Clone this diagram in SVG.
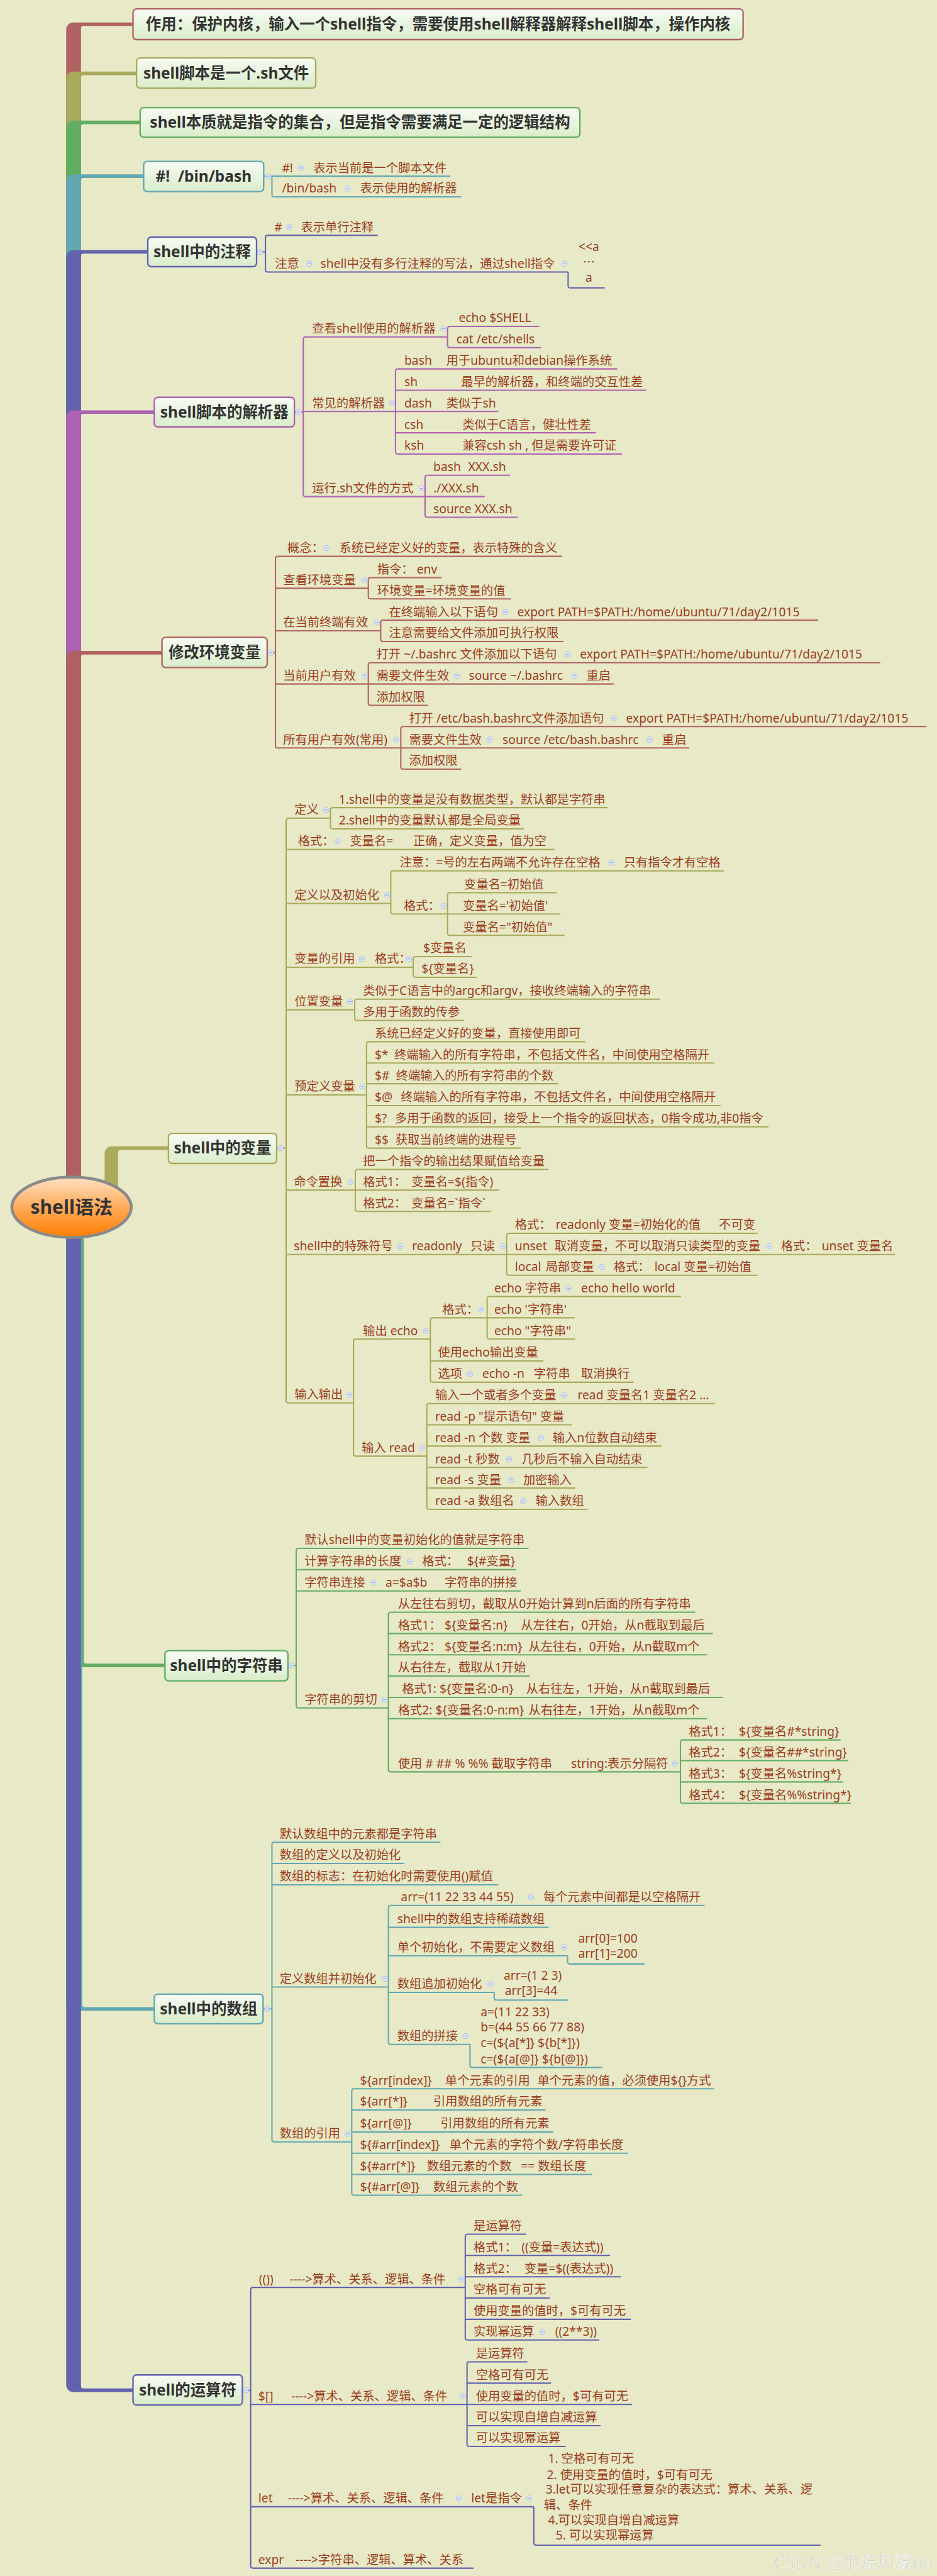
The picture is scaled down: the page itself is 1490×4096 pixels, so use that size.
<svg xmlns="http://www.w3.org/2000/svg" width="1490" height="4096" viewBox="0 0 1490 4096">
<defs>
<style>
.t{font-family:"Noto Sans","Noto Sans CJK SC",sans-serif;font-size:20.5px;fill:#9b3d1e}
.m{font-family:"Noto Sans","Noto Sans CJK SC",sans-serif;font-size:26px;font-weight:bold;fill:#333;text-anchor:middle}
.c{text-anchor:middle}
.u{fill:none;stroke-width:2.2}
.R{stroke:#b06262}.O{stroke:#a9aa5c}.G{stroke:#63ad63}.T{stroke:#62a8b0}.I{stroke:#6262ae}.M{stroke:#ae62b2}
.b{fill:url(#bx);stroke-width:2.5}
</style>
<linearGradient id="bx" x1="0" y1="0" x2="0" y2="1"><stop offset="0" stop-color="#f8fbf4"/><stop offset="1" stop-color="#d8edc9"/></linearGradient>
<linearGradient id="rg" x1="0" y1="0" x2="0" y2="1"><stop offset="0" stop-color="#ffe2c4"/><stop offset="0.5" stop-color="#ffab5a"/><stop offset="1" stop-color="#ff7f00"/></linearGradient>
<g id="k"><circle r="4.5" fill="#dfe8f8" stroke="#a3b9df" stroke-width="1"/><path d="M-2.2 0H2.2" stroke="#7290c4" stroke-width="1"/></g>
</defs>
<rect width="1490" height="4096" fill="#e8e9c6"/>
<g transform="scale(0.94006)">
<g id="connectors">
<path fill="#b06262" d="M112 2042V50A12 12 0 0 1 124 38H225V44H141A4 4 0 0 0 137 48V2042Z"/>
<path fill="#a9aa5c" d="M112 2042V133A12 12 0 0 1 124 121H231V127H141A4 4 0 0 0 137 131V2042Z"/>
<path fill="#63ad63" d="M112 2042V216A12 12 0 0 1 124 204H237V210H141A4 4 0 0 0 137 214V2042Z"/>
<path fill="#62a8b0" d="M112 2042V307A12 12 0 0 1 124 295H243V301H141A4 4 0 0 0 137 305V2042Z"/>
<path fill="#6262ae" d="M112 2042V435A12 12 0 0 1 124 423H250V429H141A4 4 0 0 0 137 433V2042Z"/>
<path fill="#ae62b2" d="M112 2042V706A12 12 0 0 1 124 694H261V700H141A4 4 0 0 0 137 704V2042Z"/>
<path fill="#b06262" d="M112 2042V1113A12 12 0 0 1 124 1101H274V1107H141A4 4 0 0 0 137 1111V2042Z"/>
<path fill="#a9aa5c" d="M177 2012V1951A12 12 0 0 1 189 1939H285V1945H204A4 4 0 0 0 200 1949V2012Z"/>
<path fill="#63ad63" d="M112 2042V2808A12 12 0 0 0 124 2820H279V2814H146A4 4 0 0 1 142 2810V2042Z"/>
<path fill="#62a8b0" d="M112 2042V3389A12 12 0 0 0 124 3401H261V3395H143A4 4 0 0 1 139 3391V2042Z"/>
<path fill="#6262ae" d="M112 2042V4034A12 12 0 0 0 124 4046H225V4040H141A4 4 0 0 1 137 4036V2042Z"/>
<path class="u T" d="M446 298H460M460 298V329Q460 333 464 333"/>
<path class="u I" d="M434 426H449M453 398Q449 398 449 402V456Q449 460 453 460M961 460V483Q961 487 965 487"/>
<path class="u M" d="M498 697H513M517 570Q513 570 513 574V836Q513 840 517 840M761 552Q757 552 757 556V584Q757 588 761 588M673 624Q669 624 669 628V764Q669 768 673 768M723 804Q719 804 719 808V871Q719 875 723 875"/>
<path class="u R" d="M452 1104H466M470 941Q466 941 466 945V1261Q466 1265 470 1265M627 977Q623 977 623 981V1009Q623 1013 627 1013M648 1049Q644 1049 644 1053V1081Q644 1085 648 1085M627 1121Q623 1121 623 1125V1189Q623 1193 627 1193M682 1229Q678 1229 678 1233V1297Q678 1301 682 1301"/>
<path class="u O" d="M468 1942H484M488 1384Q484 1384 484 1388V2369Q484 2373 488 2373M563 1366Q559 1366 559 1370V1398Q559 1402 563 1402M665 1473Q661 1473 661 1477V1542Q661 1546 665 1546M761 1510Q757 1510 757 1514V1578Q757 1582 761 1582M703 1618Q699 1618 699 1622V1649Q699 1653 703 1653M604 1690Q600 1690 600 1694V1722Q600 1726 604 1726M624 1762Q620 1762 620 1766V1938Q620 1942 624 1942M605 1978Q601 1978 601 1982V2045Q601 2049 605 2049M861 2086Q857 2086 857 2090V2153Q857 2157 861 2157M602 2265Q598 2265 598 2269V2459Q598 2463 602 2463M732 2229Q728 2229 728 2233V2334Q728 2338 732 2338M828 2193Q824 2193 824 2197V2261Q824 2265 828 2265M726 2374Q722 2374 722 2378V2549Q722 2553 726 2553"/>
<path class="u G" d="M487 2817H501M505 2619Q501 2619 501 2623V2885Q501 2889 505 2889M661 2727Q657 2727 657 2731V2993Q657 2997 661 2997M1155 2943Q1151 2943 1151 2947V3046Q1151 3050 1155 3050"/>
<path class="u T" d="M445 3398H460M464 3116Q460 3116 460 3120V3619Q460 3623 464 3623M661 3223Q657 3223 657 3227V3454Q657 3458 661 3458M960 3308V3318Q960 3322 964 3322M836 3370V3379Q836 3383 840 3383M795 3458V3493Q795 3497 799 3497M599 3533Q595 3533 595 3537V3709Q595 3713 599 3713"/>
<path class="u I" d="M410 4043H424M428 3869Q424 3869 424 3873V4340Q424 4344 428 4344M791 3779Q787 3779 787 3783V3954Q787 3958 791 3958M794 3995Q790 3995 790 3999V4134Q790 4138 794 4138M903 4240V4301Q903 4305 907 4305"/>
</g>
<g id="root"><ellipse cx="121" cy="2042" rx="101" ry="51" fill="url(#rg)" stroke="#8a8a8a" stroke-width="5"/><text class="m" x="121" y="2053" style="font-size:32px">shell语法</text></g>
<g id="n1"><rect class="b R" x="225" y="15" width="1032" height="52" rx="6"/><text class="m" x="741" y="50">作用：保护内核，输入一个shell指令，需要使用shell解释器解释shell脚本，操作内核</text></g>
<g id="n2"><rect class="b O" x="231" y="98" width="303" height="51" rx="6"/><text class="m" x="382.5" y="133">shell脚本是一个.sh文件</text></g>
<g id="n3"><rect class="b G" x="237" y="182" width="744" height="50" rx="6"/><text class="m" x="609" y="216">shell本质就是指令的集合，但是指令需要满足一定的逻辑结构</text></g>
<g id="n4"><rect class="b T" x="243" y="273" width="203" height="51" rx="6"/><text class="m" x="344.5" y="307" style="white-space:pre">#!  /bin/bash</text><use href="#k" x="454" y="298"/></g>
<g id="n4a"><path class="u T" d="M460 298H762"/><text class="t" x="477" y="291">#!</text><use href="#k" x="509" y="284"/><text class="t" x="530" y="291">表示当前是一个脚本文件</text></g>
<g id="n4b"><path class="u T" d="M464 333H780"/><text class="t" x="477" y="326">/bin/bash</text><use href="#k" x="588" y="319"/><text class="t" x="609" y="326">表示使用的解析器</text></g>
<g id="n5"><rect class="b I" x="250" y="401" width="184" height="50" rx="6"/><text class="m" x="342" y="435">shell中的注释</text><use href="#k" x="440" y="426"/></g>
<g id="n5a"><path class="u I" d="M453 398H639"/><text class="t" x="464" y="391">#</text><use href="#k" x="489" y="384"/><text class="t" x="509" y="391">表示单行注释</text></g>
<g id="n5b"><path class="u I" d="M453 460H961"/><text class="t" x="465" y="453">注意</text><use href="#k" x="523" y="446"/><text class="t" x="542" y="453">shell中没有多行注释的写法，通过shell指令</text><use href="#k" x="955" y="446"/></g>
<g id="n5c"><path class="u I" d="M965 487H1023"/><text class="t c" x="996" y="424">&lt;&lt;a</text><text class="t c" x="996" y="451" style="font-family:'Noto Sans CJK SC',sans-serif">…</text><text class="t c" x="996" y="477">a</text></g>
<g id="n6"><rect class="b M" x="261" y="672" width="237" height="50" rx="6"/><text class="m" x="379.5" y="706">shell脚本的解析器</text><use href="#k" x="505" y="697"/></g>
<g id="n6a"><path class="u M" d="M517 570H757"/><text class="t" x="528" y="563">查看shell使用的解析器</text><use href="#k" x="750" y="556"/></g>
<g id="n6a1"><path class="u M" d="M761 552H912"/><text class="t" x="776" y="545">echo $SHELL</text></g>
<g id="n6a2"><path class="u M" d="M761 588H915"/><text class="t" x="772" y="581">cat /etc/shells</text></g>
<g id="n6b"><path class="u M" d="M513 696H669"/><text class="t" x="528" y="689">常见的解析器</text><use href="#k" x="663" y="682"/></g>
<g id="n6b1"><path class="u M" d="M673 624H1044"/><text class="t" x="684" y="617">bash</text><text class="t" x="755" y="617">用于ubuntu和debian操作系统</text></g>
<g id="n6b2"><path class="u M" d="M669 660H1093"/><text class="t" x="684" y="653">sh</text><text class="t" x="780" y="653">最早的解析器，和终端的交互性差</text></g>
<g id="n6b3"><path class="u M" d="M669 696H843"/><text class="t" x="684" y="689">dash</text><text class="t" x="755" y="689">类似于sh</text></g>
<g id="n6b4"><path class="u M" d="M669 732H1008"/><text class="t" x="684" y="725">csh</text><text class="t" x="782" y="725">类似于C语言，健壮性差</text></g>
<g id="n6b5"><path class="u M" d="M673 768H1052"/><text class="t" x="684" y="761">ksh</text><text class="t" x="782" y="761">兼容csh sh , 但是需要许可证</text></g>
<g id="n6c"><path class="u M" d="M517 840H719"/><text class="t" x="528" y="833">运行.sh文件的方式</text><use href="#k" x="713" y="826"/></g>
<g id="n6c1"><path class="u M" d="M723 804H863"/><text class="t" x="733" y="797">bash</text><text class="t" x="792" y="797">XXX.sh</text></g>
<g id="n6c2"><path class="u M" d="M719 840H820"/><text class="t" x="733" y="833">./XXX.sh</text></g>
<g id="n6c3"><path class="u M" d="M723 875H876"/><text class="t" x="733" y="868">source XXX.sh</text></g>
<g id="n7"><rect class="b R" x="274" y="1078" width="178" height="51" rx="6"/><text class="m" x="363" y="1113">修改环境变量</text><use href="#k" x="458" y="1104"/></g>
<g id="n7a"><path class="u R" d="M470 941H951"/><text class="t" x="486" y="934">概念：</text><use href="#k" x="553" y="927"/><text class="t" x="574" y="934">系统已经定义好的变量，表示特殊的含义</text></g>
<g id="n7b"><path class="u R" d="M466 995H623"/><text class="t" x="479" y="988">查看环境变量</text><use href="#k" x="617" y="981"/></g>
<g id="n7b1"><path class="u R" d="M627 977H747"/><text class="t" x="638" y="970">指令：</text><text class="t" x="705" y="970">env</text></g>
<g id="n7b2"><path class="u R" d="M627 1013H864"/><text class="t" x="638" y="1006">环境变量=环境变量的值</text></g>
<g id="n7c"><path class="u R" d="M466 1067H644"/><text class="t" x="479" y="1060">在当前终端有效</text><use href="#k" x="638" y="1053"/></g>
<g id="n7c1"><path class="u R" d="M648 1049H1384"/><text class="t" x="658" y="1042">在终端输入以下语句</text><use href="#k" x="855" y="1035"/><text class="t" x="875" y="1042">export PATH=$PATH:/home/ubuntu/71/day2/1015</text></g>
<g id="n7c2"><path class="u R" d="M648 1085H953"/><text class="t" x="658" y="1078">注意需要给文件添加可执行权限</text></g>
<g id="n7d"><path class="u R" d="M466 1157H623"/><text class="t" x="479" y="1150">当前用户有效</text><use href="#k" x="617" y="1143"/></g>
<g id="n7d1"><path class="u R" d="M627 1121H1489"/><text class="t" x="637" y="1114">打开 ~/.bashrc 文件添加以下语句</text><use href="#k" x="960" y="1107"/><text class="t" x="981" y="1114">export PATH=$PATH:/home/ubuntu/71/day2/1015</text></g>
<g id="n7d2"><path class="u R" d="M623 1157H1038"/><text class="t" x="637" y="1150">需要文件生效</text><use href="#k" x="773" y="1143"/><text class="t" x="793" y="1150">source ~/.bashrc</text><use href="#k" x="972" y="1143"/><text class="t" x="992" y="1150">重启</text></g>
<g id="n7d3"><path class="u R" d="M627 1193H724"/><text class="t" x="637" y="1186">添加权限</text></g>
<g id="n7e"><path class="u R" d="M470 1265H678"/><text class="t" x="479" y="1258">所有用户有效(常用)</text><use href="#k" x="670" y="1251"/></g>
<g id="n7e1"><path class="u R" d="M682 1229H1567"/><text class="t" x="692" y="1222">打开 /etc/bash.bashrc文件添加语句</text><use href="#k" x="1038" y="1215"/><text class="t" x="1059" y="1222">export PATH=$PATH:/home/ubuntu/71/day2/1015</text></g>
<g id="n7e2"><path class="u R" d="M678 1265H1166"/><text class="t" x="692" y="1258">需要文件生效</text><use href="#k" x="828" y="1251"/><text class="t" x="850" y="1258">source /etc/bash.bashrc</text><use href="#k" x="1099" y="1251"/><text class="t" x="1120" y="1258">重启</text></g>
<g id="n7e3"><path class="u R" d="M682 1301H780"/><text class="t" x="692" y="1294">添加权限</text></g>
<g id="n8"><rect class="b O" x="285" y="1917" width="183" height="51" rx="6"/><text class="m" x="376.5" y="1951">shell中的变量</text><use href="#k" x="475" y="1942"/></g>
<g id="n8a"><path class="u O" d="M488 1384H559"/><text class="t" x="498" y="1377">定义</text><use href="#k" x="552" y="1370"/></g>
<g id="n8a1"><path class="u O" d="M563 1366H1028"/><text class="t" x="573" y="1359">1.shell中的变量是没有数据类型，默认都是字符串</text></g>
<g id="n8a2"><path class="u O" d="M563 1402H886"/><text class="t" x="573" y="1395">2.shell中的变量默认都是全局变量</text></g>
<g id="n8b"><path class="u O" d="M484 1437H938"/><text class="t" x="504" y="1430">格式：</text><use href="#k" x="571" y="1423"/><text class="t" x="592" y="1430">变量名=</text><text class="t" x="699" y="1430">正确，定义变量，值为空</text></g>
<g id="n8c"><path class="u O" d="M484 1528H661"/><text class="t" x="498" y="1521">定义以及初始化</text><use href="#k" x="655" y="1514"/></g>
<g id="n8c1"><path class="u O" d="M665 1473H1225"/><text class="t" x="676" y="1466">注意：=号的左右两端不允许存在空格</text><use href="#k" x="1034" y="1459"/><text class="t" x="1055" y="1466">只有指令才有空格</text></g>
<g id="n8c2"><path class="u O" d="M665 1546H757"/><text class="t" x="683" y="1539">格式：</text><use href="#k" x="751" y="1532"/></g>
<g id="n8c2a"><path class="u O" d="M761 1510H942"/><text class="t" x="785" y="1503">变量名=初始值</text></g>
<g id="n8c2b"><path class="u O" d="M757 1546H948"/><text class="t" x="783" y="1539">变量名='初始值'</text></g>
<g id="n8c2c"><path class="u O" d="M761 1582H955"/><text class="t" x="783" y="1575">变量名="初始值"</text></g>
<g id="n8d"><path class="u O" d="M484 1636H699"/><text class="t" x="498" y="1629">变量的引用</text><use href="#k" x="612" y="1622"/><text class="t" x="634" y="1629">格式：</text><use href="#k" x="692" y="1622"/></g>
<g id="n8d1"><path class="u O" d="M703 1618H798"/><text class="t" x="716" y="1611">$变量名</text></g>
<g id="n8d2"><path class="u O" d="M703 1653H806"/><text class="t" x="713" y="1646">${变量名}</text></g>
<g id="n8e"><path class="u O" d="M484 1708H600"/><text class="t" x="498" y="1701">位置变量</text><use href="#k" x="592" y="1694"/></g>
<g id="n8e1"><path class="u O" d="M604 1690H1116"/><text class="t" x="614" y="1683">类似于C语言中的argc和argv，接收终端输入的字符串</text></g>
<g id="n8e2"><path class="u O" d="M604 1726H785"/><text class="t" x="614" y="1719">多用于函数的传参</text></g>
<g id="n8f"><path class="u O" d="M484 1852H620"/><text class="t" x="498" y="1845">预定义变量</text><use href="#k" x="613" y="1838"/></g>
<g id="n8f1"><path class="u O" d="M624 1762H990"/><text class="t" x="634" y="1755">系统已经定义好的变量，直接使用即可</text></g>
<g id="n8f2"><path class="u O" d="M620 1798H1208"/><text class="t" x="634" y="1791">$*</text><text class="t" x="667" y="1791">终端输入的所有字符串，不包括文件名，中间使用空格隔开</text></g>
<g id="n8f3"><path class="u O" d="M620 1833H944"/><text class="t" x="634" y="1826">$#</text><text class="t" x="670" y="1826">终端输入的所有字符串的个数</text></g>
<g id="n8f4"><path class="u O" d="M620 1870H1219"/><text class="t" x="634" y="1863">$@</text><text class="t" x="678" y="1863">终端输入的所有字符串，不包括文件名，中间使用空格隔开</text></g>
<g id="n8f5"><path class="u O" d="M620 1906H1300"/><text class="t" x="634" y="1899">$?</text><text class="t" x="668" y="1899">多用于函数的返回，接受上一个指令的返回状态，0指令成功,非0指令</text></g>
<g id="n8f6"><path class="u O" d="M624 1942H881"/><text class="t" x="634" y="1935">$$</text><text class="t" x="669" y="1935">获取当前终端的进程号</text></g>
<g id="n8g"><path class="u O" d="M484 2013H601"/><text class="t" x="497" y="2006">命令置换</text><use href="#k" x="593" y="1999"/></g>
<g id="n8g1"><path class="u O" d="M605 1978H928"/><text class="t" x="614" y="1971">把一个指令的输出结果赋值给变量</text></g>
<g id="n8g2"><path class="u O" d="M601 2013H844"/><text class="t" x="614" y="2006">格式1：</text><text class="t" x="696" y="2006">变量名=$(指令)</text></g>
<g id="n8g3"><path class="u O" d="M605 2049H831"/><text class="t" x="614" y="2042">格式2：</text><text class="t" x="696" y="2042">变量名=`指令`</text></g>
<g id="n8h"><path class="u O" d="M484 2122H857"/><text class="t" x="497" y="2115">shell中的特殊符号</text><use href="#k" x="677" y="2108"/><text class="t" x="697" y="2115">readonly</text><text class="t" x="796" y="2115">只读</text><use href="#k" x="851" y="2108"/></g>
<g id="n8h1"><path class="u O" d="M861 2086H1282"/><text class="t" x="871" y="2079">格式：</text><text class="t" x="940" y="2079">readonly 变量=初始化的值</text><text class="t" x="1216" y="2079">不可变</text></g>
<g id="n8h2"><path class="u O" d="M857 2122H1514"/><text class="t" x="871" y="2115">unset</text><text class="t" x="938" y="2115">取消变量，不可以取消只读类型的变量</text><use href="#k" x="1301" y="2108"/><text class="t" x="1321" y="2115">格式：</text><text class="t" x="1390" y="2115">unset 变量名</text></g>
<g id="n8h3"><path class="u O" d="M861 2157H1282"/><text class="t" x="871" y="2150">local</text><text class="t" x="923" y="2150">局部变量</text><use href="#k" x="1018" y="2143"/><text class="t" x="1038" y="2150">格式：</text><text class="t" x="1107" y="2150">local 变量=初始值</text></g>
<g id="n8i"><path class="u O" d="M488 2373H598"/><text class="t" x="498" y="2366">输入输出</text><use href="#k" x="591" y="2359"/></g>
<g id="n8i1"><path class="u O" d="M602 2265H728"/><text class="t" x="614" y="2258">输出 echo</text><use href="#k" x="720" y="2251"/></g>
<g id="n8i1a"><path class="u O" d="M732 2229H824"/><text class="t" x="748" y="2222">格式：</text><use href="#k" x="814" y="2215"/></g>
<g id="n8i1a1"><path class="u O" d="M828 2193H1152"/><text class="t" x="836" y="2186">echo 字符串</text><use href="#k" x="962" y="2179"/><text class="t" x="983" y="2186">echo hello world</text></g>
<g id="n8i1a2"><path class="u O" d="M824 2229H972"/><text class="t" x="836" y="2222">echo '字符串'</text></g>
<g id="n8i1a3"><path class="u O" d="M828 2265H973"/><text class="t" x="836" y="2258">echo "字符串"</text></g>
<g id="n8i1b"><path class="u O" d="M728 2302H919"/><text class="t" x="741" y="2295">使用echo输出变量</text></g>
<g id="n8i1c"><path class="u O" d="M732 2338H1072"/><text class="t" x="741" y="2331">选项</text><use href="#k" x="795" y="2324"/><text class="t" x="816" y="2331">echo -n</text><text class="t" x="903" y="2331">字符串</text><text class="t" x="983" y="2331">取消换行</text></g>
<g id="n8i2"><path class="u O" d="M602 2463H722"/><text class="t" x="612" y="2456">输入 read</text><use href="#k" x="714" y="2449"/></g>
<g id="n8i2a"><path class="u O" d="M726 2374H1209"/><text class="t" x="736" y="2367">输入一个或者多个变量</text><use href="#k" x="954" y="2360"/><text class="t" x="977" y="2367">read 变量名1 变量名2 ...</text></g>
<g id="n8i2b"><path class="u O" d="M722 2410H967"/><text class="t" x="736" y="2403">read -p "提示语句" 变量</text></g>
<g id="n8i2c"><path class="u O" d="M722 2446H1119"/><text class="t" x="736" y="2439">read -n 个数 变量</text><use href="#k" x="915" y="2432"/><text class="t" x="935" y="2439">输入n位数自动结束</text></g>
<g id="n8i2d"><path class="u O" d="M722 2482H1095"/><text class="t" x="736" y="2475">read -t 秒数</text><use href="#k" x="861" y="2468"/><text class="t" x="882" y="2475">几秒后不输入自动结束</text></g>
<g id="n8i2e"><path class="u O" d="M722 2517H973"/><text class="t" x="736" y="2510">read -s 变量</text><use href="#k" x="865" y="2503"/><text class="t" x="885" y="2510">加密输入</text></g>
<g id="n8i2f"><path class="u O" d="M726 2553H994"/><text class="t" x="736" y="2546">read -a 数组名</text><use href="#k" x="885" y="2539"/><text class="t" x="906" y="2546">输入数组</text></g>
<g id="n9"><rect class="b G" x="279" y="2792" width="208" height="51" rx="6"/><text class="m" x="383" y="2826">shell中的字符串</text><use href="#k" x="493" y="2817"/></g>
<g id="n9a"><path class="u G" d="M505 2619H894"/><text class="t" x="515" y="2612">默认shell中的变量初始化的值就是字符串</text></g>
<g id="n9b"><path class="u G" d="M501 2655H873"/><text class="t" x="515" y="2648">计算字符串的长度</text><use href="#k" x="693" y="2641"/><text class="t" x="714" y="2648">格式：</text><text class="t" x="790" y="2648">${#变量}</text></g>
<g id="n9c"><path class="u G" d="M501 2691H881"/><text class="t" x="515" y="2684">字符串连接</text><use href="#k" x="631" y="2677"/><text class="t" x="652" y="2684">a=$a$b</text><text class="t" x="752" y="2684">字符串的拼接</text></g>
<g id="n9d"><path class="u G" d="M505 2889H657"/><text class="t" x="515" y="2882">字符串的剪切</text><use href="#k" x="650" y="2875"/></g>
<g id="n9d1"><path class="u G" d="M661 2727H1176"/><text class="t" x="673" y="2720">从左往右剪切，截取从0开始计算到n后面的所有字符串</text></g>
<g id="n9d2"><path class="u G" d="M657 2763H1206"/><text class="t" x="673" y="2756">格式1：</text><text class="t" x="752" y="2756">${变量名:n}</text><text class="t" x="881" y="2756">从左往右，0开始，从n截取到最后</text></g>
<g id="n9d3"><path class="u G" d="M657 2799H1196"/><text class="t" x="673" y="2792">格式2：</text><text class="t" x="752" y="2792">${变量名:n:m}</text><text class="t" x="894" y="2792">从左往右，0开始，从n截取m个</text></g>
<g id="n9d4"><path class="u G" d="M657 2835H896"/><text class="t" x="673" y="2828">从右往左，截取从1开始</text></g>
<g id="n9d5"><path class="u G" d="M657 2871H1223"/><text class="t" x="680" y="2864">格式1: ${变量名:0-n}</text><text class="t" x="890" y="2864">从右往左，1开始，从n截取到最后</text></g>
<g id="n9d6"><path class="u G" d="M657 2907H1196"/><text class="t" x="673" y="2900">格式2: ${变量名:0-n:m}</text><text class="t" x="894" y="2900">从右往左，1开始，从n截取m个</text></g>
<g id="n9d7"><path class="u G" d="M661 2997H1151"/><text class="t" x="673" y="2990">使用 # ## % %% 截取字符串</text><text class="t" x="966" y="2990">string:表示分隔符</text><use href="#k" x="1142" y="2983"/></g>
<g id="n9d7a"><path class="u G" d="M1155 2943H1422"/><text class="t" x="1165" y="2936">格式1：</text><text class="t" x="1250" y="2936">${变量名#*string}</text></g>
<g id="n9d7b"><path class="u G" d="M1151 2978H1435"/><text class="t" x="1165" y="2971">格式2：</text><text class="t" x="1250" y="2971">${变量名##*string}</text></g>
<g id="n9d7c"><path class="u G" d="M1151 3014H1426"/><text class="t" x="1165" y="3007">格式3：</text><text class="t" x="1250" y="3007">${变量名%string*}</text></g>
<g id="n9d7d"><path class="u G" d="M1155 3050H1439"/><text class="t" x="1165" y="3043">格式4：</text><text class="t" x="1250" y="3043">${变量名%%string*}</text></g>
<g id="n10"><rect class="b T" x="261" y="3373" width="184" height="50" rx="6"/><text class="m" x="353" y="3407">shell中的数组</text><use href="#k" x="452" y="3398"/></g>
<g id="n10a"><path class="u T" d="M464 3116H745"/><text class="t" x="473" y="3109">默认数组中的元素都是字符串</text></g>
<g id="n10b"><path class="u T" d="M460 3152H684"/><text class="t" x="473" y="3145">数组的定义以及初始化</text></g>
<g id="n10c"><path class="u T" d="M460 3188H843"/><text class="t" x="473" y="3181">数组的标志：在初始化时需要使用()赋值</text></g>
<g id="n10d"><path class="u T" d="M460 3361H657"/><text class="t" x="473" y="3354">定义数组并初始化</text><use href="#k" x="651" y="3347"/></g>
<g id="n10d1"><path class="u T" d="M661 3223H1192"/><text class="t" x="678" y="3216">arr=(11 22 33 44 55)</text><use href="#k" x="898" y="3209"/><text class="t" x="919" y="3216">每个元素中间都是以空格隔开</text></g>
<g id="n10d2"><path class="u T" d="M657 3260H928"/><text class="t" x="672" y="3253">shell中的数组支持稀疏数组</text></g>
<g id="n10d3"><path class="u T" d="M657 3308H960"/><text class="t" x="672" y="3301">单个初始化，不需要定义数组</text><use href="#k" x="954" y="3294"/></g>
<g id="n10d3a"><path class="u T" d="M964 3322H1090"/><text class="t" x="978" y="3286">arr[0]=100</text><text class="t" x="978" y="3312">arr[1]=200</text></g>
<g id="n10d4"><path class="u T" d="M657 3370H836"/><text class="t" x="672" y="3363">数组追加初始化</text><use href="#k" x="830" y="3356"/></g>
<g id="n10d4a"><path class="u T" d="M840 3383H961"/><text class="t" x="852" y="3349">arr=(1 2 3)</text><text class="t" x="854" y="3374">arr[3]=44</text></g>
<g id="n10d5"><path class="u T" d="M661 3458H795"/><text class="t" x="672" y="3451">数组的拼接</text><use href="#k" x="787" y="3444"/></g>
<g id="n10d5a"><path class="u T" d="M799 3497H1019"/><text class="t" x="813" y="3410">a=(11 22 33)</text><text class="t" x="813" y="3436">b=(44 55 66 77 88)</text><text class="t" x="813" y="3463">c=(${a[*]} ${b[*]})</text><text class="t" x="813" y="3490">c=(${a[@]} ${b[@]})</text></g>
<g id="n10e"><path class="u T" d="M464 3623H595"/><text class="t" x="473" y="3616">数组的引用</text><use href="#k" x="588" y="3609"/></g>
<g id="n10e1"><path class="u T" d="M599 3533H1208"/><text class="t" x="609" y="3526">${arr[index]}</text><text class="t" x="753" y="3526">单个元素的引用</text><text class="t" x="909" y="3526">单个元素的值，必须使用${}方式</text></g>
<g id="n10e2"><path class="u T" d="M595 3569H923"/><text class="t" x="609" y="3562">${arr[*]}</text><text class="t" x="733" y="3562">引用数组的所有元素</text></g>
<g id="n10e3"><path class="u T" d="M595 3606H936"/><text class="t" x="609" y="3599">${arr[@]}</text><text class="t" x="745" y="3599">引用数组的所有元素</text></g>
<g id="n10e4"><path class="u T" d="M595 3642H1062"/><text class="t" x="609" y="3635">${#arr[index]}</text><text class="t" x="760" y="3635">单个元素的字符个数/字符串长度</text></g>
<g id="n10e5"><path class="u T" d="M595 3678H1002"/><text class="t" x="609" y="3671">${#arr[*]}</text><text class="t" x="722" y="3671">数组元素的个数</text><text class="t" x="881" y="3671">== 数组长度</text></g>
<g id="n10e6"><path class="u T" d="M599 3713H883"/><text class="t" x="609" y="3706">${#arr[@]}</text><text class="t" x="733" y="3706">数组元素的个数</text></g>
<g id="n11"><rect class="b I" x="225" y="4017" width="185" height="51" rx="6"/><text class="m" x="317.5" y="4052">shell的运算符</text><use href="#k" x="416" y="4043"/></g>
<g id="n11a"><path class="u I" d="M428 3869H787"/><text class="t" x="438" y="3862">(())</text><text class="t" x="490" y="3862">----&gt;算术、关系、逻辑、条件</text><use href="#k" x="780" y="3855"/></g>
<g id="n11a1"><path class="u I" d="M791 3779H890"/><text class="t" x="801" y="3772">是运算符</text></g>
<g id="n11a2"><path class="u I" d="M787 3815H1032"/><text class="t" x="801" y="3808">格式1：</text><text class="t" x="882" y="3808">((变量=表达式))</text></g>
<g id="n11a3"><path class="u I" d="M787 3851H1050"/><text class="t" x="801" y="3844">格式2：</text><text class="t" x="887" y="3844">变量=$((表达式))</text></g>
<g id="n11a4"><path class="u I" d="M787 3887H930"/><text class="t" x="801" y="3880">空格可有可无</text></g>
<g id="n11a5"><path class="u I" d="M787 3923H1067"/><text class="t" x="801" y="3916">使用变量的值时，$可有可无</text></g>
<g id="n11a6"><path class="u I" d="M791 3958H1014"/><text class="t" x="801" y="3951">实现幂运算</text><use href="#k" x="917" y="3944"/><text class="t" x="939" y="3951">((2**3))</text></g>
<g id="n11b"><path class="u I" d="M424 4067H790"/><text class="t" x="437" y="4060">$[]</text><text class="t" x="493" y="4060">----&gt;算术、关系、逻辑、条件</text><use href="#k" x="783" y="4053"/></g>
<g id="n11b1"><path class="u I" d="M794 3995H892"/><text class="t" x="805" y="3988">是运算符</text></g>
<g id="n11b2"><path class="u I" d="M790 4031H932"/><text class="t" x="805" y="4024">空格可有可无</text></g>
<g id="n11b3"><path class="u I" d="M790 4067H1069"/><text class="t" x="805" y="4060">使用变量的值时，$可有可无</text></g>
<g id="n11b4"><path class="u I" d="M790 4103H1016"/><text class="t" x="805" y="4096">可以实现自增自减运算</text></g>
<g id="n11b5"><path class="u I" d="M794 4138H957"/><text class="t" x="805" y="4131">可以实现幂运算</text></g>
<g id="n11c"><path class="u I" d="M424 4240H903"/><text class="t" x="437" y="4233">let</text><text class="t" x="487" y="4233">----&gt;算术、关系、逻辑、条件</text><use href="#k" x="776" y="4226"/><text class="t" x="797" y="4233">let是指令</text><use href="#k" x="895" y="4226"/></g>
<g id="n11c1"><path class="u I" d="M907 4305H1388"/><text class="t" x="927" y="4166">1. 空格可有可无</text><text class="t" x="925" y="4193">2. 使用变量的值时，$可有可无</text><text class="t" x="923" y="4218">3.let可以实现任意复杂的表达式：算术、关系、逻</text><text class="t" x="920" y="4244">辑、条件</text><text class="t" x="927" y="4270">4.可以实现自增自减运算</text><text class="t" x="940" y="4296">5. 可以实现幂运算</text></g>
<g id="n11d"><path class="u I" d="M428 4344H801"/><text class="t" x="437" y="4337">expr</text><text class="t" x="500" y="4337">----&gt;字符串、逻辑、算术、关系</text></g>
<text x="1309" y="4345" font-family="Noto Sans, Noto Sans CJK SC, sans-serif" font-size="30" fill="#cfcfc8" stroke="#ffffff" stroke-width="0.6">CSDN @雨疏风骤66</text>
</g>
</svg>
